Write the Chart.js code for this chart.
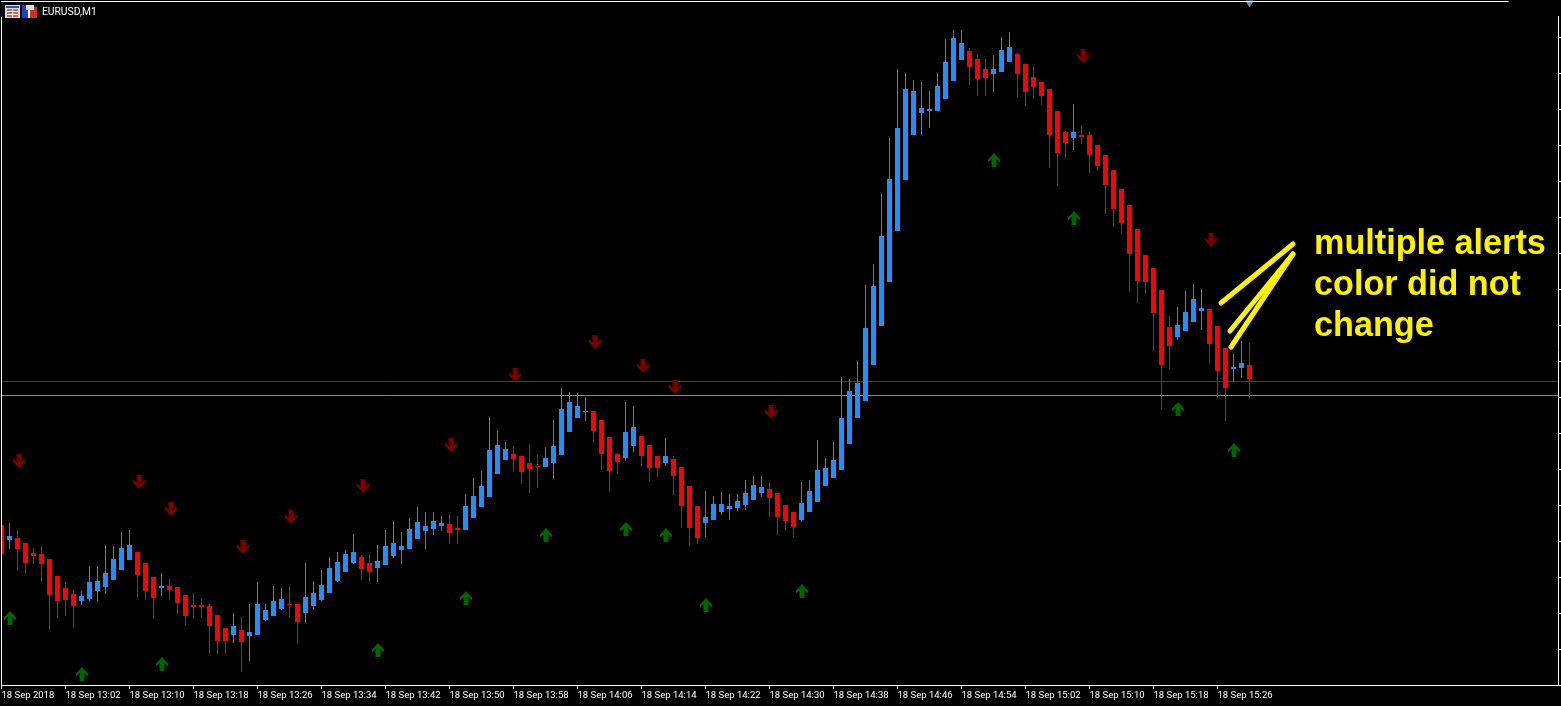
<!DOCTYPE html>
<html>
<head>
<meta charset="utf-8">
<title>EURUSD,M1</title>
<script src="https://cdn.jsdelivr.net/npm/chart.js@4"></script>
<style>
html,body{margin:0;padding:0;background:#000;overflow:hidden;width:1561px;height:706px}
#wrap{position:relative;width:1561px;height:706px}
canvas{position:absolute;left:0;top:0}
.note{position:absolute;left:1314px;color:#fff200;font:bold 34.2px/41px "Liberation Sans",Arial,sans-serif;white-space:pre}
#sym{position:absolute;left:42px;top:5px;color:#fff;font:10.3px/13px Roboto,"Liberation Sans",sans-serif}
svg{position:absolute}
</style>
</head>
<body>
<div id="wrap">
<canvas id="c" width="1561" height="706"></canvas>
<svg style="left:5px;top:5px" width="15" height="13"><rect width="15" height="13" fill="#d8d8e8"/><rect x="1" y="1" width="13" height="2" fill="#3050c0"/><rect x="2" y="4" width="5" height="8" fill="#e06050"/><rect x="8" y="4" width="5" height="8" fill="#e06050"/><rect x="2" y="6" width="11" height="1" fill="#fff"/><rect x="2" y="9" width="11" height="1" fill="#fff"/></svg>
<svg style="left:22px;top:5px" width="15" height="13"><rect width="7" height="13" fill="#2040d0"/><rect x="8" y="2" width="7" height="11" fill="#c83030"/><rect x="4" y="0" width="8" height="5" fill="#e0e0e0"/><rect x="6" y="5" width="2" height="8" fill="#fff"/></svg>
<div id="sym">EURUSD,M1</div>
<div class="note" style="top:222px">multiple alerts</div>
<div class="note" style="top:263px">color did not</div>
<div class="note" style="top:304px">change</div>
</div>
<script>
const candleIndex = Array.from({length:157},(_,i)=>i);
const tickLabels = ["18 Sep 2018","18 Sep 13:02","18 Sep 13:10","18 Sep 13:18","18 Sep 13:26","18 Sep 13:34","18 Sep 13:42","18 Sep 13:50","18 Sep 13:58","18 Sep 14:06","18 Sep 14:14","18 Sep 14:22","18 Sep 14:30","18 Sep 14:38","18 Sep 14:46","18 Sep 14:54","18 Sep 15:02","18 Sep 15:10","18 Sep 15:18","18 Sep 15:26"];
const opens = [160,145,147,142,132,131,126,109,97,91,84,86,94,98,105,115,125,133,122,108,97,99,98,90,80,80,79,70,57,50,55,49,50,65,69,76,81,81,72,79,85,92,104,113,122,128,122,117,120,129,135,136,146,154,156,159,161,157,155,167,178,188,211,225,231,229,222,219,218,222,230,253,267,273,274,265,248,231,227,239,249,240,229,222,226,218,199,179,162,165,173,176,177,180,185,192,196,192,180,173,165,173,183,199,207,215,241,267,284,320,359,403,454,505,550,572,574,574,586,604,625,634,626,616,611,613,623,631,621,608,603,596,574,553,547,550,550,540,530,515,496,480,456,430,417,395,358,348,354,363,374,376,359,337,316,317,320];
const highs = [162,162,155,142,137,139,126,109,103,95,94,119,119,140,139,153,155,133,122,108,112,106,98,90,92,86,81,70,57,72,68,81,103,81,99,97,99,81,122,104,115,128,133,135,151,130,131,140,155,164,153,167,178,173,173,169,171,169,191,207,214,268,254,243,239,229,241,230,238,265,297,293,292,288,274,265,248,232,283,279,249,240,229,247,229,218,199,179,194,189,193,191,191,205,209,209,203,192,180,173,203,205,245,227,243,308,306,324,400,421,491,547,616,612,605,603,594,612,646,655,655,637,630,626,630,648,653,632,621,619,603,596,574,554,581,560,554,540,530,515,496,480,456,430,417,395,369,378,394,401,396,376,359,337,331,344,342];
const lows = [118,136,114,111,121,103,55,67,69,57,80,84,84,91,105,115,125,87,85,66,89,85,71,60,66,67,31,31,31,42,13,24,50,64,69,75,67,41,62,75,84,92,103,113,121,105,103,103,120,127,121,136,146,136,150,154,141,141,155,167,178,188,211,225,213,201,192,197,218,206,230,253,267,264,242,215,193,211,224,233,219,204,208,219,190,157,139,141,148,165,170,165,174,175,185,188,168,150,154,148,163,173,183,199,207,215,241,267,284,320,359,403,454,505,550,550,557,574,586,604,625,600,589,589,593,613,623,588,579,586,580,517,499,526,535,541,512,514,471,458,451,393,382,391,334,276,316,345,354,363,355,321,287,264,303,307,287];
const closes = [131,149,136,122,129,121,90,84,85,79,89,103,104,112,126,137,140,110,94,87,99,95,82,69,78,78,59,44,44,59,43,53,81,75,84,86,80,63,88,92,100,117,123,131,133,116,113,124,139,142,139,156,163,159,164,162,152,155,179,189,199,235,240,236,226,213,216,218,227,239,276,283,279,274,254,231,214,223,253,258,229,217,217,229,209,179,157,147,168,181,181,179,184,192,200,198,187,168,164,158,182,194,215,217,225,267,294,302,357,399,449,506,557,596,594,577,576,599,623,647,642,618,606,607,616,635,638,611,593,598,589,550,532,542,553,548,530,519,500,476,462,431,404,403,372,320,339,360,373,386,377,341,314,297,318,322,306];
const buyArrowCandles = [1,10,20,47,58,68,78,83,88,100,124,134,147,154];
const buyArrowLevels = [67,11,21,35,87,150,156,150,80,94,525,467,276,235];
const sellArrowCandles = [2,17,21,30,36,45,56,64,74,80,84,96,135,151];
const sellArrowLevels = [224,203,176,138,168,199,240,310,343,319,298,273,629,445];
const redLineLevel = 303.5;
const grayLineLevel = 289.5;
const alertStroke1 = [{x:152.44,y:382},{x:161.44,y:441}];
const alertStroke2 = [{x:153.56,y:354},{x:161.44,y:431}];
const alertStroke3 = [{x:153.69,y:338},{x:161.44,y:431}];

const X_MAX = 194.625, Y_MAX = 684, TICK_STEP_Y = 36;
const BLUE = '#1e90ff', RED = '#ff0000';
const candleColors = candleIndex.map(i => closes[i] >= opens[i] ? BLUE : RED);

function arrowIcon(color, w, cx, up){
  const c = document.createElement('canvas');
  c.width = w; c.height = 14;
  const g = c.getContext('2d');
  const pts = [[0,0],[6,6.5],[6,9.5],[2.5,6.5],[2.5,14],[-2.5,14],[-2.5,6.5],[-6,9.5],[-6,6.5]];
  g.fillStyle = color;
  g.beginPath();
  pts.forEach((p,i)=>{
    const px = cx + p[0], py = up ? p[1] : 14 - p[1];
    i ? g.lineTo(px,py) : g.moveTo(px,py);
  });
  g.closePath(); g.fill();
  return c;
}

const framePlugin = {
  id:'frame',
  afterDatasetsDraw(chart){
    const a = chart.chartArea, g = chart.ctx;
    const xs = chart.scales.x;
    g.save();
    g.strokeStyle = '#fff'; g.lineWidth = 1;
    g.beginPath();
    g.moveTo(a.left, a.top + 16); g.lineTo(a.left, a.bottom);
    g.moveTo(a.left - 0.5, a.top + 0.5); g.lineTo(xs.getPixelForValue(188.4), a.top + 0.5);
    g.moveTo(a.right, a.top + 15); g.lineTo(a.right, a.bottom);
    g.stroke();
    g.restore();
  }
};

const noPad = s => { s.paddingLeft = s.paddingRight = s.paddingTop = s.paddingBottom = 0; };
const lineDs = (data,color,width,order)=>({type:'line',data,borderColor:color,borderWidth:width,pointRadius:0,borderCapStyle:'round',fill:false,order,tension:0});
const markerDs = (xs,ys,img,order)=>({type:'line',data:xs.map((x,i)=>({x,y:ys[i]})),showLine:false,pointStyle:img,pointRadius:7,pointHoverRadius:7,order,clip:false});

new Chart(document.getElementById('c'),{
  type:'bar',
  data:{datasets:[
    {type:'bar',label:'body',data:candleIndex.map(i=>({x:i,y:[opens[i],closes[i]]})),backgroundColor:candleColors,borderWidth:0,borderSkipped:false,maxBarThickness:5,grouped:false,order:5},
    {type:'bar',label:'wick',data:candleIndex.map(i=>({x:i,y:[lows[i],highs[i]]})),backgroundColor:candleColors,borderWidth:0,borderSkipped:false,maxBarThickness:1,grouped:false,order:6},
    lineDs([{x:0,y:redLineLevel},{x:X_MAX,y:redLineLevel}],'#d40000',1,7),
    lineDs([{x:0,y:grayLineLevel},{x:X_MAX,y:grayLineLevel}],'#808a94',1,7),
    markerDs(buyArrowCandles,buyArrowLevels,arrowIcon('#006400',13,7,true),4),
    markerDs(sellArrowCandles,sellArrowLevels,arrowIcon('#780000',15,9,false),4),
    {type:'line',data:[{x:156,y:682}],showLine:false,pointStyle:'triangle',pointRotation:180,pointRadius:4,backgroundColor:'#778899',borderColor:'#778899',order:3,clip:false},
    lineDs(alertStroke1,'#fff200',5,1),
    lineDs(alertStroke2,'#fff200',5,1),
    lineDs(alertStroke3,'#fff200',5,1)
  ]},
  options:{
    responsive:false,animation:false,devicePixelRatio:1,
    layout:{padding:{left:1.5,top:1,right:0,bottom:0},autoPadding:false},
    plugins:{legend:{display:false},tooltip:{enabled:false},title:{display:false}},
    events:[],
    scales:{
      x:{type:'linear',position:'bottom',min:0,max:X_MAX,offset:false,
        grid:{drawOnChartArea:false,offset:false,color:'#fff',tickLength:4,tickColor:'#fff'},
        border:{color:'#fff',width:1},
        afterBuildTicks(s){ s.ticks = tickLabels.map((_,i)=>({value:i*8})); },
        afterFit(s){ s.height = 21; noPad(s); },
        ticks:{autoSkip:false,maxRotation:0,minRotation:0,align:'start',padding:1,color:'#fff',
          font:{family:'Roboto,"Liberation Sans",sans-serif',size:9.5},
          callback(v){ return tickLabels[v/8]; }}
      },
      y:{type:'linear',position:'right',min:0,max:Y_MAX,
        grid:{drawOnChartArea:false,color:'#fff',tickLength:3,tickColor:'#fff'},
        border:{display:false},
        ticks:{display:false,stepSize:TICK_STEP_Y},
        afterBuildTicks(s){ s.ticks = s.ticks.filter(t=>t.value<=Y_MAX-TICK_STEP_Y); },
        afterFit(s){ s.width = 2.5; noPad(s); }
      }
    }
  },
  plugins:[framePlugin]
});
</script>
</body>
</html>
